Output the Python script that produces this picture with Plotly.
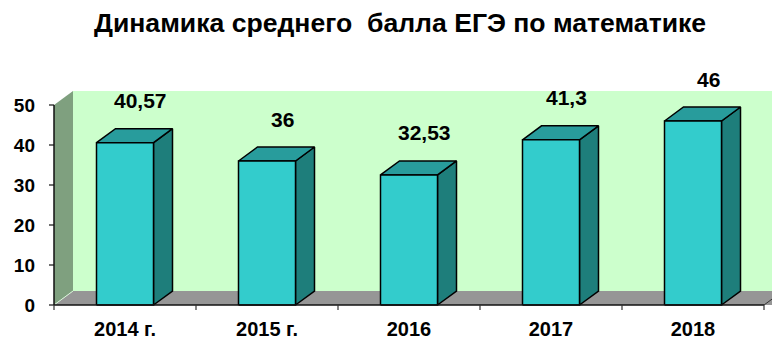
import plotly.graph_objects as go

# Average USE math score by year
years = ["2014 г.", "2015 г.", "2016", "2017", "2018"]
scores = [40.57, 36, 32.53, 41.3, 46]
value_text = ["40,57", "36", "32,53", "41,3", "46"]
y_ticks = [0, 10, 20, 30, 40, 50]

TITLE = "Динамика среднего  балла ЕГЭ по математике"

# pseudo-3D geometry (data units: 1 category = 142 px, 1 point = 4 px)
PX_X = 142.0
PX_Y = 4.0
DX = 19 / PX_X          # depth shift to the right
DY = 14 / PX_Y          # depth shift upward
HALF_W = 28.5 / PX_X    # half width of a bar front
Y_TOP = 50
N = len(years)
X_LEFT = -0.5
X_RIGHT = N - 0.5

FONT = "Liberation Sans, Arial, sans-serif"
WALL_BACK = "#CCFFCC"
WALL_LEFT = "#7FA07F"
FLOOR = "#969696"
BAR_FRONT = "#33CCCC"
BAR_TOP = "#289C9C"
BAR_SIDE = "#1E7E7B"

fig = go.Figure()


def poly(xs, ys, fill, line_color=None, width=0):
    fig.add_trace(go.Scatter(
        x=xs + [xs[0]], y=ys + [ys[0]], mode="lines", fill="toself",
        fillcolor=fill,
        line=dict(color=line_color or fill, width=width),
        hoverinfo="skip", showlegend=False,
    ))


def seg(xs, ys, color, width):
    fig.add_trace(go.Scatter(
        x=xs, y=ys, mode="lines", line=dict(color=color, width=width),
        hoverinfo="skip", showlegend=False,
    ))


# walls and floor
poly([X_LEFT + DX, X_RIGHT + 1, X_RIGHT + 1, X_LEFT + DX],
     [DY, DY, Y_TOP + DY, Y_TOP + DY], WALL_BACK)
poly([X_LEFT, X_LEFT, X_LEFT + DX, X_LEFT + DX],
     [0, Y_TOP, Y_TOP + DY, DY], WALL_LEFT)
poly([X_LEFT, X_LEFT + DX, X_RIGHT + 1 + DX, X_RIGHT + 1],
     [0, DY, DY, 0], FLOOR)
seg([X_LEFT, X_LEFT + DX], [0, DY], "#D8F5D8", 1)
seg([X_RIGHT, X_RIGHT + DX], [0, DY], "#333333", 1)

# bars: front, top and side faces
for i, v in enumerate(scores):
    x0, x1 = i - HALF_W, i + HALF_W
    poly([x1, x1 + DX, x1 + DX, x1], [0, DY, v + DY, v], BAR_SIDE, "black", 1.5)
    poly([x0, x1, x1 + DX, x0 + DX], [v, v, v + DY, v + DY], BAR_TOP, "black", 1.5)
    poly([x0, x1, x1, x0], [0, 0, v, v], BAR_FRONT, "black", 1.5)

# axis lines and tick marks
seg([X_LEFT, X_LEFT], [0, Y_TOP], "#111111", 1.5)
seg([X_LEFT, X_RIGHT], [0, 0], "#111111", 1.5)
for t in y_ticks:
    seg([X_LEFT - 5 / PX_X, X_LEFT], [t, t], "#111111", 1.2)
for k in range(N + 1):
    b = X_LEFT + k
    seg([b, b], [0, -5 / PX_Y], "#333333", 1.2)

# value labels above the bars
for i, (v, t) in enumerate(zip(scores, value_text)):
    fig.add_annotation(
        x=i + 15 / PX_X, y=v + DY + 7, text=t, showarrow=False,
        xanchor="center", yanchor="middle",
        font=dict(family=FONT, size=21, color="black", weight="bold"),
    )

W, H = 772, 340
L, R, T, B = 48, 0, 55, 27
x_start = X_LEFT - 6 / PX_X
x_end = x_start + (W - L - R) / PX_X
y_start = -2.0
y_end = y_start + (H - T - B) / PX_Y

fig.add_annotation(
    x=(400 - L) / (W - L - R), y=1 + (T - 23) / (H - T - B),
    xref="paper", yref="paper", text=TITLE, showarrow=False,
    xanchor="center", yanchor="middle",
    font=dict(family=FONT, size=26.6, color="black", weight="bold"),
)

fig.update_layout(
    width=W, height=H,
    margin=dict(l=L, r=R, t=T, b=B, pad=0),
    paper_bgcolor="white", plot_bgcolor="white",
    showlegend=False,
    xaxis=dict(
        range=[x_start, x_end], showgrid=False, zeroline=False, showline=False,
        tickmode="array", tickvals=list(range(N)), ticktext=years,
        ticks="", ticklabelstandoff=2, automargin=False,
        tickfont=dict(family=FONT, size=20, color="black", weight="bold"),
        fixedrange=True,
    ),
    yaxis=dict(
        range=[y_start, y_end], showgrid=False, zeroline=False, showline=False,
        tickmode="array", tickvals=y_ticks, ticks="", ticklabelstandoff=12,
        automargin=False,
        tickfont=dict(family=FONT, size=19, color="black", weight="bold"),
        fixedrange=True,
    ),
)

fig.write_html("out.html")
